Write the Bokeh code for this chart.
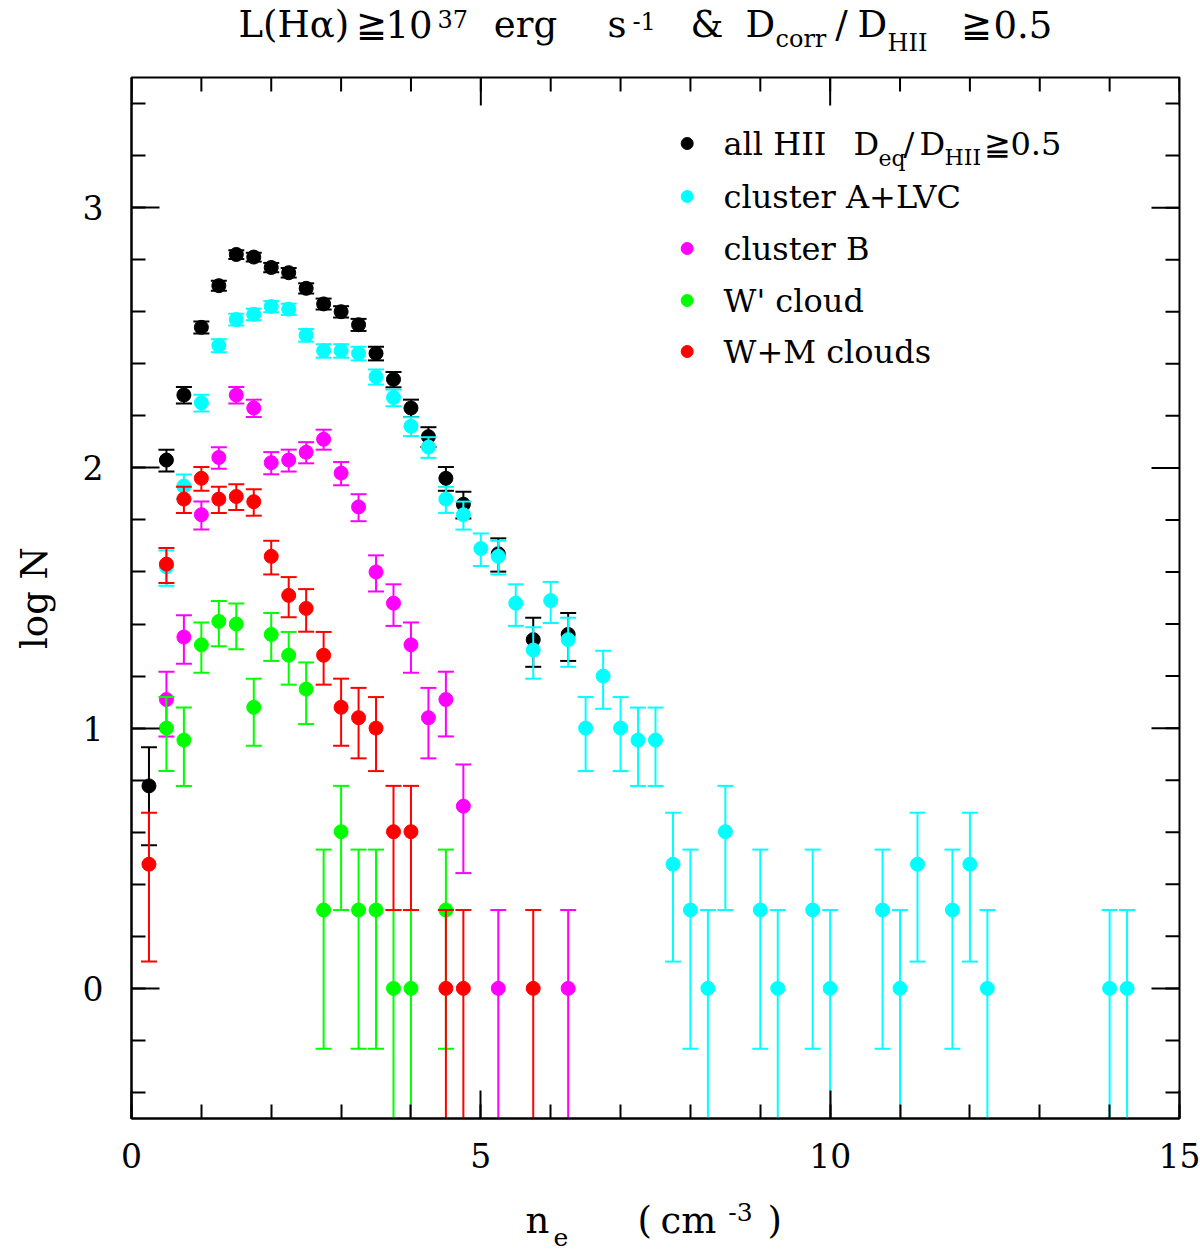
import numpy as np
from bokeh.plotting import figure
from bokeh.layouts import column
from bokeh.models import Range1d, LinearAxis, FixedTicker, Label, ColumnDataSource
from bokeh.core.properties import value
from bokeh.embed import file_html
from bokeh.resources import INLINE

# ---------------- data ----------------
ne_all = [0.25, 0.5, 0.75, 1.0, 1.25, 1.5, 1.75, 2.0, 2.25, 2.5, 2.75, 3.0, 3.25,
          3.5, 3.75, 4.0, 4.25, 4.5, 4.75, 5.25, 5.75, 6.25]
logN_all = [0.778, 2.03, 2.28, 2.54, 2.70, 2.82, 2.81, 2.77, 2.75, 2.69, 2.63, 2.60, 2.55,
            2.44, 2.34, 2.23, 2.12, 1.96, 1.86, 1.67, 1.34, 1.36]

ne_A = [0.5, 0.75, 1.0, 1.25, 1.5, 1.75, 2.0, 2.25, 2.5, 2.75, 3.0, 3.25, 3.5, 3.75,
        4.0, 4.25, 4.5, 4.75, 5.0, 5.25, 5.5, 5.75, 6.0, 6.25, 6.5, 6.75, 7.0, 7.25, 7.5,
        7.75, 8.0, 8.25, 8.5, 9.0, 9.25, 9.75, 10.0, 10.75, 11.0, 11.25, 11.75, 12.0,
        12.25, 14.0, 14.25]
logN_A = [1.62, 1.93, 2.25, 2.47, 2.57, 2.59, 2.62, 2.61, 2.51, 2.45, 2.45, 2.44, 2.35, 2.27,
          2.16, 2.08, 1.88, 1.82, 1.69, 1.66, 1.48, 1.30, 1.49, 1.34, 1.0, 1.20, 1.0, 0.954, 0.954,
          0.477, 0.301, 0.0, 0.602, 0.301, 0.0, 0.301, 0.0, 0.301, 0.0, 0.477, 0.301, 0.477,
          0.0, 0.0, 0.0]

ne_B = [0.5, 0.75, 1.0, 1.25, 1.5, 1.75, 2.0, 2.25, 2.5, 2.75, 3.0, 3.25, 3.5, 3.75,
        4.0, 4.25, 4.5, 4.75, 5.25, 6.25]
logN_B = [1.11, 1.35, 1.82, 2.04, 2.28, 2.23, 2.02, 2.03, 2.06, 2.11, 1.98, 1.85, 1.60, 1.48,
          1.32, 1.04, 1.11, 0.70, 0.0, 0.0]

ne_Wp = [0.5, 0.75, 1.0, 1.25, 1.5, 1.75, 2.0, 2.25, 2.5, 2.75, 3.0, 3.25, 3.5, 3.75, 4.0, 4.5]
logN_Wp = [1.0, 0.954, 1.32, 1.41, 1.40, 1.08, 1.36, 1.28, 1.15, 0.301, 0.602, 0.301, 0.301,
           0.0, 0.0, 0.301]

ne_WM = [0.25, 0.5, 0.75, 1.0, 1.25, 1.5, 1.75, 2.0, 2.25, 2.5, 2.75, 3.0, 3.25, 3.5,
         3.75, 4.0, 4.5, 4.75, 5.75]
logN_WM = [0.477, 1.63, 1.88, 1.96, 1.88, 1.89, 1.87, 1.66, 1.51, 1.46, 1.28, 1.08, 1.04, 1.0,
           0.602, 0.602, 0.0, 0.0, 0.0]

colors = ["#000000", "#00FFFF", "#FF00FF", "#00FF00", "#FF0000"]
series = [(ne_all, logN_all), (ne_A, logN_A), (ne_B, logN_B), (ne_Wp, logN_Wp), (ne_WM, logN_WM)]

x_major = [0, 5, 10, 15]
x_minor = list(range(0, 16))
y_major = [0, 1, 2, 3]
y_minor = [round(-0.4 + 0.2 * i, 1) for i in range(20)]

FONT = "DejaVu Serif"
W = 1200

# page layout (page pixels): title strip 0..67, main figure 67..1190, x-label strip 1190..1254
T_H = 67
M_TOP = 67
M_H = 1190 - 67
X_TOP = 1190
X_H = 64
FX0, FX1 = 131, 1179   # frame left/right (page px)

# baseline correction of Bokeh's text placement (empirical, proportional to font size)
def base(py, size):
    return py - 0.35 * size

# ---------------- main figure ----------------
p = figure(width=W, height=M_H, output_backend="svg", toolbar_location=None, tools="",
           title=None, x_range=Range1d(0, 15), y_range=Range1d(-0.5, 3.5),
           x_axis_type=None, y_axis_type=None,
           min_border_left=FX0, min_border_right=W - FX1,
           min_border_top=77 - M_TOP, min_border_bottom=1190 - 1118)
p.xgrid.visible = False
p.ygrid.visible = False
p.outline_line_color = "black"
p.outline_line_width = 2
p.background_fill_color = "white"
p.border_fill_color = "white"

# page-pixel -> data helpers (frame spans px 131..1179 and 77..1118)
def dx(px):
    return (px - 131.0) / (1048.0 / 15.0)

def dy(py):
    return 3.5 - (py - 77.0) / (1041.0 / 4.0)

def mk_axis(ticker, standoff):
    ax = LinearAxis(ticker=ticker)
    ax.axis_line_width = 2
    ax.axis_line_color = "black"
    ax.major_tick_in = 28
    ax.major_tick_out = 0
    ax.minor_tick_in = 14
    ax.minor_tick_out = 0
    ax.major_tick_line_width = 2
    ax.minor_tick_line_width = 2
    ax.major_tick_line_color = "black"
    ax.minor_tick_line_color = "black"
    ax.major_label_text_font = FONT
    ax.major_label_text_font_size = "33px"
    ax.major_label_text_color = "black"
    ax.major_label_standoff = standoff
    return ax

xax = mk_axis(FixedTicker(ticks=x_major, minor_ticks=x_minor), 24)
yax = mk_axis(FixedTicker(ticks=y_major, minor_ticks=y_minor), 28)
yax.axis_label = "log N"
yax.axis_label_text_font = FONT
yax.axis_label_text_font_size = "37px"
yax.axis_label_text_font_style = "normal"
yax.axis_label_text_color = "black"
yax.axis_label_standoff = 24
p.add_layout(xax, "below")
p.add_layout(yax, "left")

# ticks on the top and right edges of the frame (outer half is clipped by the frame)
y_top = p.y_range.end
x_right = p.x_range.end
p.scatter(x=x_minor, y=[y_top] * len(x_minor), marker="dash", angle=np.pi / 2, size=28,
          line_color="black", line_width=2)
p.scatter(x=x_major, y=[y_top] * len(x_major), marker="dash", angle=np.pi / 2, size=56,
          line_color="black", line_width=2)
p.scatter(x=[x_right] * len(y_minor), y=y_minor, marker="dash", size=28,
          line_color="black", line_width=2)
p.scatter(x=[x_right] * len(y_major), y=y_major, marker="dash", size=56,
          line_color="black", line_width=2)

# ---------------- data glyphs ----------------
for (xs, ys), c in zip(series, colors):
    y = np.array(ys, dtype=float)
    N = 10.0 ** y
    s = np.sqrt(N)
    up = np.log10(N + s)
    arg = N - s
    lo = np.where(arg > 1e-6, np.log10(np.maximum(arg, 1e-6)), -10.0)
    src = ColumnDataSource(dict(x=list(xs), y=list(y), up=list(up), lo=list(lo)))
    p.segment(x0="x", y0="lo", x1="x", y1="up", source=src, line_color=c, line_width=2)
    p.scatter(x="x", y="up", source=src, marker="dash", size=16, line_color=c, line_width=2)
    p.scatter(x="x", y="lo", source=src, marker="dash", size=16, line_color=c, line_width=2)
    p.scatter(x="x", y="y", source=src, marker="circle", size=14, fill_color=c,
              line_color=c, line_width=1)

# ---------------- legend (inside the frame) ----------------
def lab(text, px, py, size):
    p.add_layout(Label(x=dx(px), y=dy(base(py, size)), text=text, text_font=FONT,
                       text_font_size=f"{size}px", text_color="black",
                       text_baseline="alphabetic", text_align="left"))

legend_rows = [155, 208, 260, 312, 363]
for c, py in zip(colors, legend_rows):
    p.scatter(x=[dx(686.7)], y=[dy(py - 12)], marker="circle", size=12,
              fill_color=c, line_color=c, line_width=1)

for t, px, py, sz in [("all HII", 723, 155, 32), ("D", 853, 155, 32), ("eq", 878, 166, 22),
                      ("/", 903, 155, 32), ("D", 919, 155, 32), ("HII", 944, 165, 22),
                      ("≧0.5", 983, 155, 32),
                      ("cluster A+LVC", 723, 208, 32), ("cluster B", 723, 260, 32),
                      ("W' cloud", 723, 312, 32), ("W+M clouds", 723, 363, 32)]:
    lab(t, px, py, sz)

# ---------------- strips holding title and x-axis label ----------------
# their frames are aligned with the main frame by the column layout (px 131..1179)
def strip(top, h):
    f = figure(width=W, height=h, output_backend="svg", toolbar_location=None, tools="",
               title=None, x_range=Range1d(FX0, FX1), y_range=Range1d(top + h, top),
               x_axis_type=None, y_axis_type=None,
               min_border_left=FX0, min_border_right=W - FX1,
               min_border_top=0, min_border_bottom=0)
    f.xgrid.visible = False
    f.ygrid.visible = False
    f.outline_line_color = None
    f.background_fill_color = "white"
    f.border_fill_color = "white"
    return f

def stext(f, text, px, py, size, align="left"):
    f.text(x=[px], y=[base(py, size)], text=[text], text_font=value(FONT),
           text_font_size=value(f"{size}px"), text_color="black",
           text_baseline="alphabetic", text_align=align)

tf = strip(0, T_H)
for t, px, py, sz, al in [("L(Hα)", 238, 37, 37, "left"), ("≧", 355, 37, 37, "left"),
                          ("10", 385, 37, 37, "left"), ("37", 437, 27, 24, "left"),
                          ("erg", 525, 37, 37, "center"), ("s", 607, 37, 37, "left"),
                          ("-1", 632, 29, 24, "left"), ("&", 690, 37, 37, "left"),
                          ("D", 745, 37, 37, "left"), ("corr", 775, 47, 24, "left"),
                          ("/", 841, 37, 37, "center"), ("D", 857, 37, 37, "left"),
                          ("HII", 887, 51, 24, "left"), ("≧", 960, 37, 37, "left"),
                          ("0.5", 993, 37, 37, "left")]:
    stext(tf, t, px, py, sz, al)

xf = strip(X_TOP, X_H)
for t, px, py, sz, al in [("n", 525, 1233, 37, "left"), ("e", 553, 1245, 25, "left"),
                          ("(", 637, 1233, 37, "left"), ("cm", 688, 1233, 37, "center"),
                          ("-3", 740, 1220, 25, "center"), (")", 767, 1233, 37, "left")]:
    stext(xf, t, px, py, sz, al)

layout = column(tf, p, xf, spacing=0)
open("out.html", "w").write(file_html(layout, INLINE, title="log N vs n_e"))
